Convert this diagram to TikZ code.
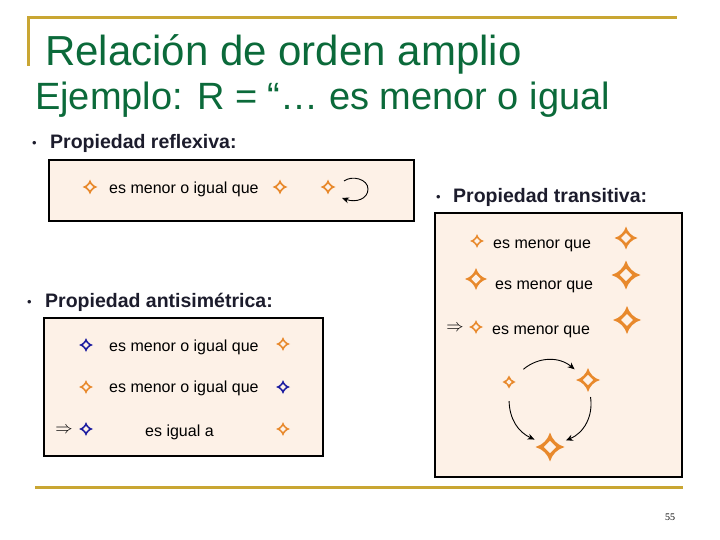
\documentclass[tikz,border=0pt]{standalone}
\usepackage{fontspec}
\setmainfont{Liberation Sans}
\newfontfamily\pagenumfont{Liberation Serif}
\usetikzlibrary{arrows.meta}
\definecolor{titlegreen}{HTML}{0B6A3A}
\definecolor{goldline}{HTML}{C9A633}
\definecolor{headc}{HTML}{1C1C2C}
\definecolor{boxfill}{HTML}{FDF1E7}
\definecolor{starorange}{HTML}{E8892C}
\definecolor{starblue}{HTML}{1C1CA0}
\tikzset{
  heading/.style={anchor=base west, inner sep=0, font=\bfseries\fontsize{19.5}{22}\selectfont, text=headc},
  bul/.style={anchor=base west, inner sep=0, font=\fontsize{13}{15}\selectfont, text=headc},
  panel/.style={draw=black, line width=2.2, fill=boxfill, anchor=north west, inner sep=0},
  rowtext/.style={anchor=base west, inner sep=0, font=\fontsize{16}{18}\selectfont},
  impl/.style={anchor=center, inner sep=0, font=\fontsize{17}{19}\selectfont},
  spot/.style={circle, inner sep=0, minimum size=#1},
  spot/.default=16,
  arr/.style={-{Stealth[length=7,width=6]}, line width=0.9},
  pics/astar/.style n args={3}{code={
    \fill[#2]
      (0,#1) .. controls (0.15*#1,0.5*#1) and (0.5*#1,0.15*#1) .. (#1,0)
      .. controls (0.5*#1,-0.15*#1) and (0.15*#1,-0.5*#1) .. (0,-#1)
      .. controls (-0.15*#1,-0.5*#1) and (-0.5*#1,-0.15*#1) .. (-#1,0)
      .. controls (-0.5*#1,0.15*#1) and (-0.15*#1,0.5*#1) .. cycle;
    \fill[boxfill] (0,#3*#1) -- (#3*#1,0) -- (0,-#3*#1) -- (-#3*#1,0) -- cycle;}}
}
\begin{document}
\begin{tikzpicture}[x=1pt,y=-1pt]
\useasboundingbox[fill=white] (0,0) rectangle (720,540);

% frame lines
\draw[goldline, line width=3] (27,18) -- (677,18);
\draw[goldline, line width=3] (28,16.5) -- (28,66);
\draw[goldline, line width=3] (35,487) -- (683,487);

% titles
\node[anchor=base west, inner sep=0, font=\fontsize{42}{46}\selectfont, text=titlegreen] (title) at (45,66) {Relación de orden amplio};
\node[anchor=base west, inner sep=0, font=\fontsize{38}{42}\selectfont, text=titlegreen] (sub) at (35,110) {Ejemplo: R = “… es menor o igual};

% ---------- reflexiva ----------
\node[bul] (b1) at (32,148) {•};
\node[heading] (h1) at (50,149) {Propiedad reflexiva:};
\node[panel, minimum width=365, minimum height=61] (p1) at (48,159) {};
\node[spot] (r1) at (90,187) {};
\pic at (r1) {astar={7.5}{starorange}{0.42}};
\node[rowtext] (t1) at (109,194) {es menor o igual que};
\node[spot] (r2) at (280,187) {};
\pic at (r2) {astar={7.5}{starorange}{0.42}};
\node[spot] (r3) at (328,187) {};
\pic at (r3) {astar={7.5}{starorange}{0.42}};
\coordinate (loopA) at (344,181);
\coordinate (loopB) at (342,198);
\draw[arr] (loopA) .. controls (352,175) and (368,179) .. (368,189)
  .. controls (368,199) and (356,203) .. (loopB);

% ---------- transitiva ----------
\node[bul] (b2) at (436,202) {•};
\node[heading] (h2) at (453,203) {Propiedad transitiva:};
\node[panel, minimum width=247, minimum height=264] (p2) at (434,212) {};
\node[spot] (ta1) at (477,241) {};
\pic at (ta1) {astar={7}{starorange}{0.42}};
\node[rowtext] (tt1) at (493,248) {es menor que};
\node[spot] (tb1) at (626,238) {};
\pic at (tb1) {astar={11.5}{starorange}{0.42}};
\node[spot] (ta2) at (476,279) {};
\pic at (ta2) {astar={11}{starorange}{0.42}};
\node[rowtext] (tt2) at (495,289) {es menor que};
\node[spot] (tb2) at (626,275) {};
\pic at (tb2) {astar={14.5}{starorange}{0.42}};
\node[impl] (im2) at (455,328) {$\Rightarrow$};
\node[spot] (ta3) at (476,327) {};
\pic at (ta3) {astar={7}{starorange}{0.42}};
\node[rowtext] (tt3) at (492,334) {es menor que};
\node[spot] (tb3) at (627,320) {};
\pic at (tb3) {astar={14}{starorange}{0.42}};

\node[spot=38] (s1) at (509,382) {};
\pic at (s1) {astar={6.5}{starorange}{0.42}};
\node[spot=34] (s2) at (588,380) {};
\pic at (s2) {astar={12}{starorange}{0.42}};
\node[spot=34] (s3) at (550,447) {};
\pic at (s3) {astar={14.5}{starorange}{0.42}};
\draw[arr] (s1) to[bend left=40] (s2);
\draw[arr] (s1) to[bend right=32] (s3);
\draw[arr] (s2) to[bend left=38] (s3);

% ---------- antisimetrica ----------
\node[bul] (b3) at (27,306) {•};
\node[heading] (h3) at (45,307) {Propiedad antisimétrica:};
\node[panel, minimum width=279, minimum height=138] (p3) at (43,317) {};
\node[spot] (aa1) at (86,345) {};
\pic at (aa1) {astar={7}{starblue}{0.42}};
\node[rowtext] (at1) at (109,351) {es menor o igual que};
\node[spot] (ab1) at (283,344) {};
\pic at (ab1) {astar={7}{starorange}{0.42}};
\node[spot] (aa2) at (86,387) {};
\pic at (aa2) {astar={7}{starorange}{0.42}};
\node[rowtext] (at2) at (109,392) {es menor o igual que};
\node[spot] (ab2) at (283,387) {};
\pic at (ab2) {astar={7}{starblue}{0.42}};
\node[impl] (im3) at (64,430) {$\Rightarrow$};
\node[spot] (aa3) at (86,429) {};
\pic at (aa3) {astar={7}{starblue}{0.42}};
\node[rowtext] (at3) at (145,436) {es igual a};
\node[spot] (ab3) at (283,429) {};
\pic at (ab3) {astar={7}{starorange}{0.42}};

% page number
\node[anchor=base, inner sep=0, font=\pagenumfont\fontsize{10}{12}\selectfont] (pn) at (670,520) {55};
\end{tikzpicture}
\end{document}
